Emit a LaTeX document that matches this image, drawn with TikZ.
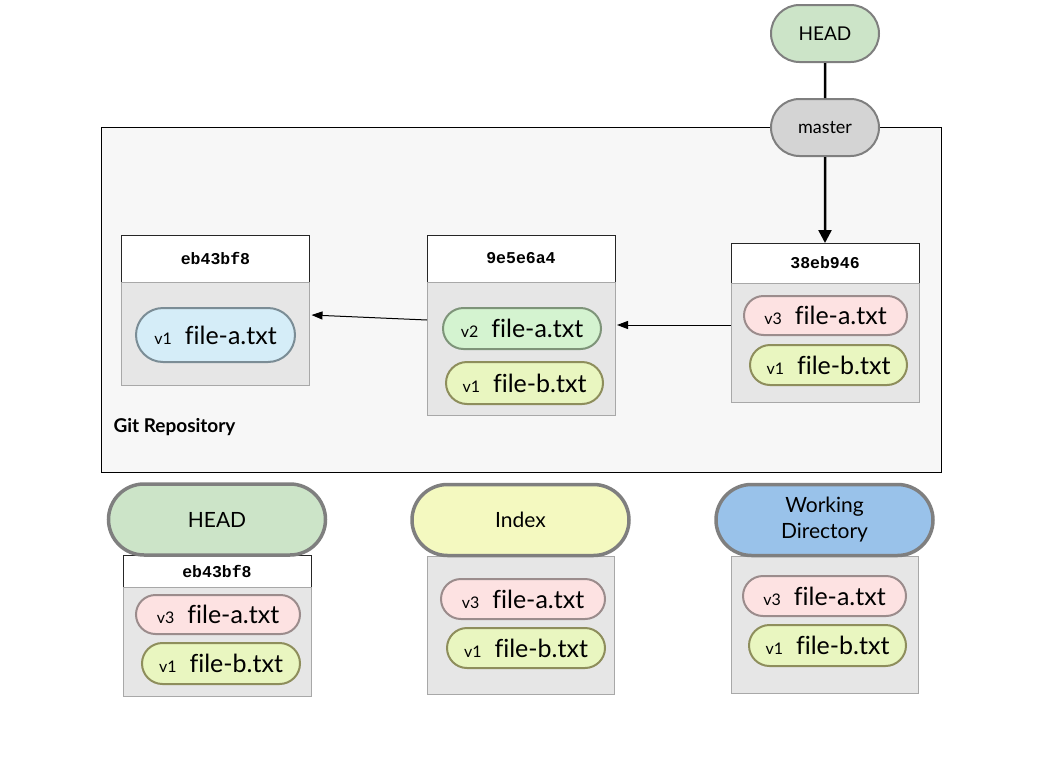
\documentclass[tikz,border=0pt]{standalone}
\usepackage{fontspec}
\setmainfont[Ligatures=NoCommon]{Lato}
\setmonofont{Liberation Mono}
\usepackage{tikz}
\usetikzlibrary{positioning,arrows.meta,shapes.misc}

\definecolor{repoFill}{HTML}{F7F7F7}
\definecolor{bodyFill}{HTML}{E6E6E6}
\definecolor{bodyLine}{HTML}{A8A8A8}
\definecolor{refLine}{HTML}{7F7F7F}
\definecolor{headFill}{HTML}{CCE4C8}
\definecolor{masterFill}{HTML}{D4D4D4}
\definecolor{indexFill}{HTML}{F4F9C0}
\definecolor{workFill}{HTML}{99C2EA}
\definecolor{blueFill}{HTML}{D5EDF8}
\definecolor{blueLine}{HTML}{7B8D96}
\definecolor{greenFill}{HTML}{D4F3D0}
\definecolor{greenLine}{HTML}{7E9479}
\definecolor{yellowFill}{HTML}{E9F6C0}
\definecolor{yellowLine}{HTML}{8E8E5C}
\definecolor{pinkFill}{HTML}{FDE2E2}
\definecolor{pinkLine}{HTML}{9B8C8C}

\newcommand{\filever}[2]{{\fontsize{16}{16}\selectfont #1}\hspace{13pt}{\fontsize{25}{25}\selectfont #2}}

\begin{document}
\begin{tikzpicture}[x=1pt, y=-1pt,
header/.style={draw=black!85, fill=white, line width=0.8pt, minimum width=188pt, inner sep=0pt, outer sep=0pt, font=\ttfamily\bfseries\fontsize{16.5}{16.5}\selectfont},
body/.style={draw=bodyLine, fill=bodyFill, line width=1pt, minimum width=188pt, inner sep=0pt, outer sep=0pt},
ref/.style={rounded rectangle, draw=refLine, line width=2pt, minimum width=108pt, minimum height=57pt, inner sep=0pt},
area/.style={rounded rectangle, draw=refLine, line width=3.5pt, minimum width=217pt, minimum height=71pt, inner sep=0pt, align=center, font=\fontsize{21}{26}\selectfont},
blob/.style={rounded rectangle, line width=2pt, inner sep=0pt, minimum height=40pt},
bluefile/.style={blob, draw=blueLine, fill=blueFill},
greenfile/.style={blob, draw=greenLine, fill=greenFill},
yellowfile/.style={blob, draw=yellowLine, fill=yellowFill},
pinkfile/.style={blob, draw=pinkLine, fill=pinkFill},
arrow/.style={-{Triangle[length=11pt, width=8pt]}, line width=1pt, black}
]
\useasboundingbox (0,0) rectangle (1058,774);

% repository frame
\node[draw=black, fill=repoFill, line width=1pt, minimum width=840pt, minimum height=345pt, inner sep=0pt] (repo) at (521,299.5) {};
\node[anchor=west, font=\bfseries\fontsize{19}{19}\selectfont] (repolabel) at (110,427) {Git Repository};

% commits
\node[header, minimum height=47pt] (c1head) at (215.5,258.5) {eb43bf8};
\node[body, minimum height=103pt, below=0pt of c1head] (c1body) {};
\node[bluefile, minimum width=159pt, minimum height=54pt] (c1a) at (215.5,335) {\filever{v1}{file-a.txt}};

\node[header, minimum height=47pt] (c2head) at (521,258.5) {9e5e6a4};
\node[body, minimum height=133pt, below=0pt of c2head] (c2body) {};
\node[greenfile, minimum width=158pt, minimum height=41pt] (c2a) at (522,328.5) {\filever{v2}{file-a.txt}};
\node[yellowfile, minimum width=157pt, minimum height=42pt] (c2b) at (524.5,383) {\filever{v1}{file-b.txt}};

\node[header, minimum height=40pt] (c3head) at (825,263) {38eb946};
\node[body, minimum height=119pt, below=0pt of c3head] (c3body) {};
\node[pinkfile, minimum width=163pt, minimum height=39pt] (c3a) at (825.5,315.5) {\filever{v3}{file-a.txt}};
\node[yellowfile, minimum width=157pt] (c3b) at (828.5,365) {\filever{v1}{file-b.txt}};

\draw[arrow] ([yshift=28.5pt]c2body.west) -- ([xshift=2pt,yshift=18.5pt]c1body.east);
\draw[arrow] ([yshift=17.5pt]c3body.west) -- ([xshift=2pt,yshift=23.5pt]c2body.east);

% refs
\node[ref, fill=headFill, font=\fontsize{19}{19}\selectfont] (head) at (825,33.5) {HEAD};
\node[ref, fill=masterFill, font=\fontsize{18}{18}\selectfont] (master) at (825,127.5) {master};
\draw[line width=2.5pt] (head) -- (master);
\draw[-{Triangle[length=13pt, width=13pt]}, line width=2.5pt] (master) -- (c3head);

% three trees
\node[header, minimum height=32pt] (hhead) at (217,571) {eb43bf8};
\node[body, minimum height=109pt, below=0pt of hhead] (hbody) {};
\node[area, fill=headFill] (headtree) at (217,519.5) {HEAD};
\node[pinkfile, minimum width=164pt, minimum height=39pt] (ha) at (218,614.5) {\filever{v3}{file-a.txt}};
\node[yellowfile, minimum width=158pt, minimum height=41pt] (hb) at (221,663.5) {\filever{v1}{file-b.txt}};

\node[body, minimum width=187pt, minimum height=138pt] (ibody) at (520.5,625) {};
\node[area, fill=indexFill] (index) at (520.5,520) {Index};
\node[pinkfile, minimum width=164pt] (ia) at (523,599) {\filever{v3}{file-a.txt}};
\node[yellowfile, minimum width=158pt] (ib) at (526,648) {\filever{v1}{file-b.txt}};

\node[body, minimum width=187pt, minimum height=137pt] (wbody) at (824.5,624.5) {};
\node[area, fill=workFill] (work) at (824.5,520) {Working\\Directory};
\node[pinkfile, minimum width=163pt] (wa) at (824.5,596) {\filever{v3}{file-a.txt}};
\node[yellowfile, minimum width=157pt, minimum height=41pt] (wb) at (827.5,645.5) {\filever{v1}{file-b.txt}};
\end{tikzpicture}
\end{document}
